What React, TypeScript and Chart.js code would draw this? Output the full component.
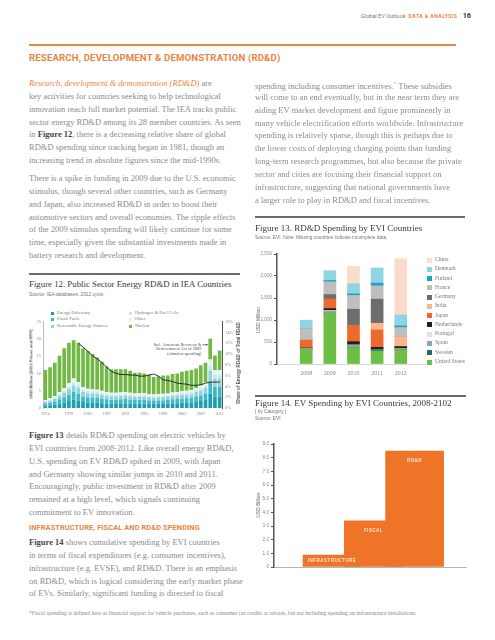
import React, { useEffect, useRef } from 'react';
import { Chart, registerables } from 'chart.js';

Chart.register(...registerables);

// ---------------- DATA ----------------
// Figure 12: Public Sector Energy RD&D in IEA Countries (USD billion, 2011 prices and PPP)
const fig12Years = [1974, 1975, 1976, 1977, 1978, 1979, 1980, 1981, 1982, 1983, 1984, 1985, 1986, 1987, 1988, 1989, 1990, 1991, 1992, 1993, 1994, 1995, 1996, 1997, 1998, 1999, 2000, 2001, 2002, 2003, 2004, 2005, 2006, 2007, 2008, 2009, 2010, 2011];
const fig12TickYears = [1974, 1979, 1983, 1987, 1991, 1995, 1999, 2003, 2007, 2011];
const fig12EnergyEfficiency = [0.7, 0.8, 1.0, 1.3, 1.6, 2.0, 2.4, 2.1, 1.7, 1.6, 1.6, 1.5, 1.4, 1.3, 1.3, 1.3, 1.3, 1.4, 1.3, 1.2, 1.3, 1.3, 1.2, 1.2, 1.2, 1.2, 1.3, 1.4, 1.4, 1.5, 1.5, 1.6, 1.8, 2.0, 2.3, 4.2, 3.3, 3.3];
const fig12FossilFuels = [0.6, 0.7, 0.9, 1.2, 1.5, 1.9, 2.2, 2.0, 1.6, 1.5, 1.4, 1.4, 1.3, 1.2, 1.1, 1.1, 1.2, 1.2, 1.1, 1.1, 1.1, 1.1, 1.0, 1.0, 1.0, 1.0, 1.1, 1.1, 1.2, 1.2, 1.3, 1.3, 1.5, 1.6, 1.9, 3.5, 2.8, 2.8];
const fig12Renewables = [0.5, 0.6, 0.8, 1.0, 1.3, 1.6, 1.9, 1.7, 1.3, 1.2, 1.2, 1.2, 1.1, 1.0, 1.0, 1.0, 1.0, 1.0, 1.0, 0.9, 0.9, 0.9, 0.9, 0.8, 0.9, 0.9, 0.9, 1.0, 1.0, 1.1, 1.1, 1.1, 1.3, 1.4, 1.6, 3.1, 2.4, 2.4];
const fig12Hydrogen = [0.2, 0.3, 0.3, 0.5, 0.6, 0.7, 0.9, 0.8, 0.6, 0.6, 0.6, 0.5, 0.5, 0.5, 0.4, 0.4, 0.4, 0.5, 0.4, 0.4, 0.4, 0.4, 0.4, 0.4, 0.4, 0.4, 0.4, 0.5, 0.5, 0.5, 0.5, 0.6, 0.6, 0.7, 0.8, 1.4, 1.1, 1.1];
const fig12Other = [0.3, 0.4, 0.5, 0.6, 0.8, 1.0, 1.1, 0.9, 0.8, 0.7, 0.7, 0.7, 0.7, 0.6, 0.6, 0.6, 0.6, 0.5, 0.6, 0.6, 0.6, 0.6, 0.5, 0.5, 0.5, 0.6, 0.5, 0.5, 0.5, 0.6, 0.6, 0.6, 0.6, 0.8, 0.9, 1.8, 1.4, 1.4];
const fig12Nuclear = [8.7, 9.0, 9.6, 10.5, 11.5, 11.7, 11.1, 11.4, 11.3, 10.9, 10.1, 9.3, 8.4, 7.4, 6.8, 6.8, 6.7, 6.6, 6.4, 6.0, 5.9, 5.7, 5.6, 5.1, 5.2, 5.3, 5.2, 5.3, 5.4, 5.6, 5.8, 5.8, 5.6, 5.9, 5.6, 6.0, 4.2, 5.6];
const fig12Share = [null, null, null, null, null, null, null, 12.0, 11.3, 10.5, 9.7, 9.1, 8.4, 7.6, 6.8, 6.4, 6.2, 6.2, 6.1, 6.1, 5.9, 5.9, 6.1, 6.3, 5.9, 5.2, 5.1, 4.9, 4.6, 4.5, 4.4, 4.2, 4.2, 4.3, 4.6, 4.8, 4.8, 4.8];
const fig12Names = ['Energy Efficiency', 'Fossil Fuels', 'Renewable Energy Sources', 'Hydrogen & Fuel Cells', 'Other', 'Nuclear'];
const fig12Colors = ['#1E9FAE', '#3DB8C6', '#8FD3DB', '#C6E8EC', '#E4F4F5', '#72B844'];

// Figure 13: RD&D Spending by EVI Countries (USD million)
const fig13Years = [2008, 2009, 2010, 2011, 2012];
const rdUnitedStates = [335, 1155, 372, 296, 319];
const rdSweden = [0, 0, 0, 30, 0];
const rdSpain = [15, 40, 60, 0, 30];
const rdPortugal = [0, 20, 0, 0, 0];
const rdNetherlands = [15, 45, 76, 53, 46];
const rdJapan = [175, 213, 357, 395, 0];
const rdIndia = [0, 0, 0, 152, 228];
const rdGermany = [0, 106, 380, 547, 0];
const rdFrance = [265, 289, 312, 304, 205];
const rdFinland = [0, 30, 38, 61, 38];
const rdDenmark = [190, 220, 228, 342, 251];
const rdChina = [0, 0, 395, 0, 1277];
const fig13Countries = ['United States', 'Sweden', 'Spain', 'Portugal', 'Netherlands', 'Japan', 'India', 'Germany', 'France', 'Finland', 'Denmark', 'China'];
const fig13Series = [rdUnitedStates, rdSweden, rdSpain, rdPortugal, rdNetherlands, rdJapan, rdIndia, rdGermany, rdFrance, rdFinland, rdDenmark, rdChina];
const fig13Colors = ['#6CBE45', '#1B6A78', '#8AA6A8', '#DDE3E3', '#231F20', '#EE6A2C', '#F7B68F', '#6D6D6D', '#BEBEBE', '#1DA1C4', '#8FD4E3', '#FBDCCB'];

// Figure 14: EV Spending by EVI Countries, by category (USD billion)
const fig14Categories = ['INFRASTRUCTURE', 'FISCAL', 'RD&D'];
const fig14Values = [0.88, 3.37, 8.49];

// ---------------- STYLE ----------------
const SERIF = "'Liberation Serif', 'Times New Roman', serif";
const SANS = "'Liberation Sans', Arial, sans-serif";
const HEAD = "Roboto, 'Liberation Sans', sans-serif";
const GRAY = '#898b8d';
const ORANGE = '#EA8545';
const DARK = '#3a3a3a';
const LH = 12.9;

type TxtProps = {
  x: number; y: number; size?: number; color?: string; family?: string; weight?: number;
  italic?: boolean; ls?: number; align?: 'left' | 'right'; children: React.ReactNode;
};
function Txt({ x, y, size = 8.5, color = GRAY, family = SERIF, weight = 400, italic = false, ls = 0, align = 'left', children }: TxtProps) {
  const style: React.CSSProperties = {
    position: 'absolute', top: y - size * 0.72, fontSize: size, lineHeight: `${size * 1.2}px`,
    fontFamily: family, color, fontWeight: weight, fontStyle: italic ? 'italic' : 'normal',
    whiteSpace: 'nowrap', letterSpacing: ls,
  };
  if (align === 'right') style.right = 495 - x; else style.left = x;
  return <div style={style}>{children}</div>;
}

function VTxt({ cx, cy, size, color = '#555', weight = 700, family = SANS, children }: { cx: number; cy: number; size: number; color?: string; weight?: number; family?: string; children: React.ReactNode }) {
  return (
    <div style={{ position: 'absolute', left: cx, top: cy, transform: 'translate(-50%,-50%) rotate(-90deg)', fontSize: size, lineHeight: `${size * 1.2}px`, fontFamily: family, fontWeight: weight, color, whiteSpace: 'nowrap' }}>{children}</div>
  );
}

function Rule({ x1, x2, y, color = '#6b6b6b', h = 1.2 }: { x1: number; x2: number; y: number; color?: string; h?: number }) {
  return <div style={{ position: 'absolute', left: x1, top: y - h / 2, width: x2 - x1, height: h, background: color }} />;
}

function Lines({ x, y, lines, size = 8.5 }: { x: number; y: number; lines: React.ReactNode[]; size?: number }) {
  return <>{lines.map((l, i) => <Txt key={i} x={x} y={y + i * LH} size={size}>{l}</Txt>)}</>;
}

function ChartCanvas({ left, top, width, height, makeConfig }: { left: number; top: number; width: number; height: number; makeConfig: () => any }) {
  const ref = useRef<HTMLCanvasElement>(null);
  useEffect(() => {
    const chart = new Chart(ref.current as HTMLCanvasElement, makeConfig());
    return () => chart.destroy();
  }, []);
  return <canvas ref={ref} width={width} height={height} style={{ position: 'absolute', left, top, width, height }} />;
}

// ---------------- CHART CONFIGS ----------------
const annotation12 = {
  id: 'annotation12',
  afterDatasetsDraw(chart: any) {
    const idx = fig12Years.indexOf(2009);
    const bar = chart.getDatasetMeta(0).data[idx];
    const xs = chart.scales.x, ys = chart.scales.y;
    const bx = xs.getPixelForValue(idx);
    const barLeft = bx - bar.width / 2;
    const ay = ys.getPixelForValue(18.3);
    const ctx = chart.ctx;
    ctx.save();
    ctx.strokeStyle = '#444';
    ctx.fillStyle = '#444';
    ctx.lineWidth = 0.7;
    ctx.beginPath();
    ctx.moveTo(barLeft - 6, ay);
    ctx.lineTo(barLeft - 1, ay);
    ctx.stroke();
    ctx.beginPath();
    ctx.moveTo(barLeft - 0.5, ay);
    ctx.lineTo(barLeft - 2.2, ay - 1.1);
    ctx.lineTo(barLeft - 2.2, ay + 1.1);
    ctx.closePath();
    ctx.fill();
    ctx.font = `4.3px ${SERIF}`;
    ctx.fillStyle = '#555';
    ctx.textAlign = 'right';
    ctx.textBaseline = 'middle';
    ['Incl. American Recovery &', 'Reinvestment Act of 2009', '(stimulus spending)'].forEach((t, i) => {
      ctx.fillText(t, barLeft - 7, ay + i * 4.6);
    });
    ctx.restore();
  },
};

function config12() {
  const seriesValues = [fig12EnergyEfficiency, fig12FossilFuels, fig12Renewables, fig12Hydrogen, fig12Other, fig12Nuclear];
  const tickFont = { size: 4.3, family: SERIF };
  return {
    type: 'bar',
    data: {
      labels: fig12Years.map(String),
      datasets: [
        ...seriesValues.map((vals, i) => ({
          type: 'bar', label: fig12Names[i], data: vals, backgroundColor: fig12Colors[i],
          stack: 's', yAxisID: 'y', barPercentage: 0.78, categoryPercentage: 1, order: 1,
        })),
        {
          type: 'line', label: 'Share', data: fig12Share, yAxisID: 'y1', borderColor: '#1d1d1d',
          borderWidth: 0.9, pointRadius: 0, tension: 0, order: 0,
        },
      ],
    },
    options: {
      responsive: false, animation: false,
      layout: { padding: { top: 5, left: 0, right: 0, bottom: 0 } },
      plugins: { legend: { display: false }, tooltip: { enabled: false } },
      scales: {
        x: {
          stacked: true, grid: { display: false, drawTicks: false }, border: { display: false },
          ticks: {
            autoSkip: false, maxRotation: 0, minRotation: 0, padding: 3, font: tickFont, color: '#888',
            callback: (_v: any, i: number) => (fig12TickYears.includes(fig12Years[i]) ? String(fig12Years[i]) : ''),
          },
          afterFit: (s: any) => { s.height = 12; },
        },
        y: {
          stacked: true, min: 0, max: 25,
          ticks: { stepSize: 5, padding: 2, font: tickFont, color: '#888' },
          grid: { display: false, drawTicks: false }, border: { display: true, color: '#aaa', width: 0.8 },
          afterFit: (s: any) => { s.width = 13; },
        },
        y1: {
          position: 'right', min: 0, max: 16,
          ticks: { stepSize: 2, padding: 3, font: tickFont, color: '#888', callback: (v: any) => `${v}%` },
          grid: { display: false, drawTicks: false }, border: { display: true, color: '#555', width: 1 },
          afterFit: (s: any) => { s.width = 23; },
        },
      },
    },
    plugins: [annotation12],
  };
}

function config13() {
  return {
    type: 'bar',
    data: {
      datasets: fig13Series.map((vals, i) => ({
        label: fig13Countries[i],
        data: fig13Years.map((yr, j) => ({ x: yr, y: vals[j] })),
        backgroundColor: fig13Colors[i],
        barThickness: 12,
        stack: 's',
      })),
    },
    options: {
      responsive: false, animation: false,
      layout: { padding: { top: 6, right: 5, left: 0, bottom: 0 } },
      plugins: { legend: { display: false }, tooltip: { enabled: false } },
      scales: {
        x: {
          type: 'linear', stacked: true, min: 2007.39, max: 2012.4,
          afterBuildTicks: (s: any) => { s.ticks = fig13Years.map((v) => ({ value: v })); },
          ticks: { callback: (v: any) => String(v), font: { size: 6, family: SERIF }, color: '#8a8a8a', padding: 6, autoSkip: false, maxRotation: 0 },
          grid: { display: false, drawTicks: false }, border: { display: true, color: '#d8d8d8', width: 1 },
          afterFit: (s: any) => { s.height = 16; },
        },
        y: {
          stacked: true, min: 0, max: 2500,
          ticks: { stepSize: 500, callback: (v: any) => Number(v).toLocaleString('en-US'), font: { size: 4.6, family: SANS }, color: '#888', padding: 2 },
          grid: { drawOnChartArea: false, drawTicks: true, tickLength: 3, color: '#555', lineWidth: 1 },
          border: { display: true, color: '#555', width: 1.5 },
          afterFit: (s: any) => { s.width = 24; },
        },
      },
    },
  };
}

const labels14 = {
  id: 'labels14',
  afterDatasetsDraw(chart: any) {
    const meta = chart.getDatasetMeta(0);
    const ctx = chart.ctx;
    ctx.save();
    ctx.font = `700 4.6px ${SANS}`;
    ctx.fillStyle = '#FDE6D6';
    ctx.textAlign = 'center';
    ctx.textBaseline = 'middle';
    try { (ctx as any).letterSpacing = '0.45px'; } catch (e) { /* ignore */ }
    meta.data.forEach((bar: any, i: number) => {
      const ty = Math.min(bar.y + 9.5, (bar.y + bar.base) / 2);
      ctx.fillText(fig14Categories[i], bar.x, ty);
    });
    ctx.restore();
  },
};

function config14() {
  return {
    type: 'bar',
    data: {
      datasets: [{
        label: 'EV spending',
        data: fig14Values.map((v, i) => ({ x: i, y: v })),
        backgroundColor: '#F07428',
        barThickness: 58,
      }],
    },
    options: {
      responsive: false, animation: false,
      layout: { padding: { top: 6, right: 2, left: 0, bottom: 0 } },
      plugins: { legend: { display: false }, tooltip: { enabled: false } },
      scales: {
        x: {
          type: 'linear', min: -0.63, max: 2.47,
          ticks: { display: false }, grid: { display: false, drawTicks: false },
          border: { display: true, color: '#b5b5b5', width: 1 },
          afterFit: (s: any) => { s.height = 5; },
        },
        y: {
          min: 0, max: 9,
          ticks: { stepSize: 1, callback: (v: any) => (v === 0 ? '0' : Number(v).toFixed(1)), font: { size: 4.6, family: SANS }, color: '#888', padding: 2 },
          grid: { drawOnChartArea: false, drawTicks: true, tickLength: 3, color: '#555', lineWidth: 1 },
          border: { display: true, color: '#555', width: 1.5 },
          afterFit: (s: any) => { s.width = 21; },
        },
      },
    },
    plugins: [labels14],
  };
}

// ---------------- PAGE ----------------
const B = ({ children }: { children: React.ReactNode }) => <span style={{ fontWeight: 700, color: '#444' }}>{children}</span>;

const leftPara1 = [
  <><span style={{ color: ORANGE, fontStyle: 'italic' }}>Research, development &amp; demonstration (RD&amp;D)</span> are</>,
  'key activities for countries seeking to help technological',
  'innovation reach full market potential. The IEA tracks public',
  'sector energy RD&D among its 28 member countries. As seen',
  <>in <B>Figure 12</B>, there is a decreasing relative share of global</>,
  'RD&D spending since tracking began in 1981, though an',
  'increasing trend in absolute figures since the mid-1990s.',
];
const leftPara2 = [
  'There is a spike in funding in 2009 due to the U.S. economic',
  'stimulus, though several other countries, such as Germany',
  'and Japan, also increased RD&D in order to boost their',
  'automotive sectors and overall economies. The ripple effects',
  'of the 2009 stimulus spending will likely continue for some',
  'time, especially given the substantial investments made in',
  'battery research and development.',
];
const leftPara3 = [
  <><B>Figure 13</B> details RD&amp;D spending on electric vehicles by</>,
  'EVI countries from 2008-2012. Like overall energy RD&D,',
  'U.S. spending on EV RD&D spiked in 2009, with Japan',
  'and Germany showing similar jumps in 2010 and 2011.',
  'Encouragingly, public investment in RD&D after 2009',
  'remained at a high level, which signals continuing',
  'commitment to EV innovation.',
];
const leftPara4 = [
  <><B>Figure 14</B> shows cumulative spending by EVI countries</>,
  'in terms of fiscal expenditures (e.g. consumer incentives),',
  'infrastructure (e.g. EVSE), and RD&D. There is an emphasis',
  'on RD&D, which is logical considering the early market phase',
  'of EVs. Similarly, significant funding is directed to fiscal',
];
const rightPara = [
  <>spending including consumer incentives.<sup style={{ fontSize: 5 }}>*</sup> These subsidies</>,
  'will come to an end eventually, but in the near term they are',
  'aiding EV market development and figure prominently in',
  'many vehicle electrification efforts worldwide. Infrastructure',
  'spending is relatively sparse, though this is perhaps due to',
  'the lower costs of deploying charging points than funding',
  'long-term research programmes, but also because the private',
  'sector and cities are focusing their financial support on',
  'infrastructure, suggesting that national governments have',
  'a larger role to play in RD&D and fiscal incentives.',
];

export default function App() {
  const legend13 = [...fig13Countries].map((n, i) => ({ n, c: fig13Colors[i] })).reverse();
  const legend12 = fig12Names.map((n, i) => ({ n, c: fig12Colors[i] }));
  return (
    <div style={{ position: 'absolute', left: 0, top: 0, width: 495, height: 640, background: '#fff', overflow: 'hidden' }}>
      {/* header */}
      <Txt x={471} y={17} size={5.6} family={HEAD} align="right" color="#777">
        Global EV Outlook{' '}
        <span style={{ color: ORANGE, fontWeight: 700, letterSpacing: 0.45, fontSize: 5.1 }}>&nbsp;DATA &amp; ANALYSIS</span>
        <span style={{ color: '#333', fontWeight: 700, fontSize: 7.2 }}>&nbsp;&nbsp; 16</span>
      </Txt>
      <Rule x1={29} x2={456} y={45} color={ORANGE} h={2} />
      <Txt x={29} y={59} size={9.6} family={HEAD} weight={700} color={ORANGE} ls={0.15}>RESEARCH, DEVELOPMENT &amp; DEMONSTRATION (RD&amp;D)</Txt>

      {/* left column */}
      <Lines x={29} y={84} lines={leftPara1} />
      <Lines x={29} y={179} lines={leftPara2} />

      {/* Figure 12 */}
      <Rule x1={29} x2={240} y={274} />
      <Txt x={29} y={285} size={8.8} color={DARK}>Figure 12. Public Sector Energy RD&amp;D in IEA Countries</Txt>
      <Txt x={29} y={295} size={4.8} family={SANS} color="#777">Source: IEA databases, 2012 cycle.</Txt>
      {legend12.map((it, i) => {
        const col = i < 3 ? 0 : 1;
        const row = i % 3;
        const mx = col === 0 ? 52 : 130;
        const my = 313 + row * 6.5;
        return (
          <React.Fragment key={it.n}>
            <div style={{ position: 'absolute', left: mx - 1.5, top: my - 1.5, width: 3, height: 3, background: it.c }} />
            <Txt x={mx + 5} y={my} size={4.6} color="#777">{it.n}</Txt>
          </React.Fragment>
        );
      })}
      <ChartCanvas left={30} top={316} width={215} height={104} makeConfig={config12} />
      <VTxt cx={31} cy={364} size={4.3}>USD Billion (2011 Prices and PPP)</VTxt>
      <VTxt cx={239} cy={363} size={4.6}>Share of Energy RD&amp;D of Total RD&amp;D</VTxt>

      <Lines x={29} y={436} lines={leftPara3} />
      <Txt x={29} y={529} size={7.4} family={HEAD} weight={700} color={ORANGE} ls={0.1}>INFRASTRUCTURE, FISCAL AND RD&amp;D SPENDING</Txt>
      <Lines x={29} y={543} lines={leftPara4} />

      {/* right column */}
      <Lines x={255} y={85} lines={rightPara} />

      {/* Figure 13 */}
      <Rule x1={255} x2={465} y={217} />
      <Txt x={255} y={229} size={9} color={DARK}>Figure 13. RD&amp;D Spending by EVI Countries</Txt>
      <Txt x={255} y={238} size={4.8} family={SANS} color="#777">Source: EVI. Note: Missing countries indicate incomplete data.</Txt>
      <ChartCanvas left={253} top={248} width={177} height={132} makeConfig={config13} />
      <VTxt cx={258} cy={320} size={5} weight={400} color="#666">USD Million</VTxt>
      {legend13.map((it, i) => {
        const cy = 260 + i * 9.28;
        return (
          <React.Fragment key={it.n}>
            <div style={{ position: 'absolute', left: 426.5, top: cy - 2.5, width: 5, height: 5, background: it.c }} />
            <Txt x={435} y={cy} size={5.6} color="#7a7a7a">{it.n}</Txt>
          </React.Fragment>
        );
      })}

      {/* Figure 14 */}
      <Rule x1={255} x2={466} y={396} />
      <Txt x={255} y={404} size={9} color={DARK}>Figure 14. EV Spending by EVI Countries, 2008-2102</Txt>
      <Txt x={255} y={412} size={4.8} family={SANS} color="#777">[ by Category ]</Txt>
      <Txt x={255} y={419} size={4.8} family={SANS} color="#777">Source: EVI.</Txt>
      <ChartCanvas left={253} top={438} width={215} height={134} makeConfig={config14} />
      <VTxt cx={258} cy={505} size={5} weight={400} color="#666">USD Billion</VTxt>

      {/* footnote */}
      <Txt x={29} y={614} size={5.6} color="#8a8a8a">*Fiscal spending is defined here as financial support for vehicle purchases, such as consumer tax credits or rebates, but not including spending on infrastructure installations.</Txt>
    </div>
  );
}
